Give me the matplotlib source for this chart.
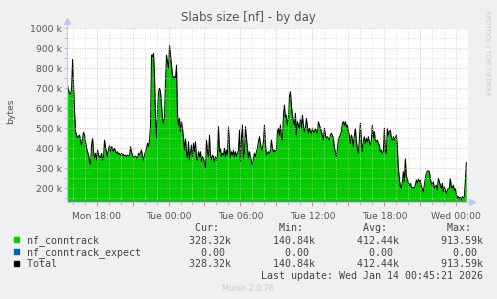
import numpy as np
import matplotlib
matplotlib.use("Agg")
from matplotlib import pyplot as plt
from matplotlib.patches import Rectangle

# samples every 5 minutes, first one Mon 15:35 (hours relative to Tue 00:00)
start_hour = -8 - 25 / 60
step_hour = 5 / 60

# nf_conntrack slab size in kbytes
nf_conntrack_k = [
    711, 690, 675, 671, 695, 845, 716, 583, 483, 466, 450, 460, 466, 441, 416, 450, 480,
    466, 433, 400, 383, 366, 333, 320, 416, 450, 383, 350, 375, 341, 391, 366, 358,
    353, 375, 341, 358, 441, 400, 383, 358, 400, 413, 383, 408, 400, 383, 400, 386,
    375, 383, 370, 375, 366, 375, 366, 370, 361, 366, 358, 366, 361, 363,
    408, 380, 366, 353, 358, 361, 355, 350, 375, 366, 380, 391, 358, 341, 370, 383,
    400, 425, 408, 440, 516, 866, 858, 875, 766, 550, 450, 600, 683, 700, 683, 616,
    550, 525, 560, 733, 866, 833, 800, 913.59, 866, 816, 766, 750, 758, 750, 816, 566,
    516, 550, 483, 533, 500, 450, 391, 450, 383, 350, 433, 341, 383, 416, 358, 425,
    383, 433, 350, 341, 383, 358,
    383, 333, 358, 350, 325, 300, 441, 383, 358, 466, 366, 341, 366, 358, 333, 358,
    341, 366, 508, 383, 400, 358, 375, 366, 400, 358, 391, 366, 508, 416, 350, 383,
    366, 391, 358, 383, 358, 375, 391, 491, 333, 450, 516, 350, 383, 508, 450, 400,
    350, 383, 358, 333, 316, 350, 375, 358, 383, 400, 433, 458, 425, 391, 400, 433,
    516, 420,
    366, 375, 383, 375, 391, 441, 400, 383, 391, 383, 391, 483, 500, 466, 516, 450,
    441, 566, 616, 550, 566, 516, 550, 658, 683, 616, 566, 533, 516, 575, 466, 533,
    516, 500, 550, 500, 566, 516, 483, 500, 550, 508, 475, 500, 483, 475, 500, 480,
    480, 500, 483, 475, 533, 516, 500, 483, 466, 441, 500, 466, 450, 458, 450, 441,
    466, 475,
    466, 450, 400, 383, 358, 400, 441, 458, 466, 483, 525, 533, 516, 533, 508, 516,
    483, 466, 425, 466, 450, 408, 466, 500, 433, 400, 375, 450, 525, 433, 383, 441,
    458, 425, 450, 433, 458, 433, 416, 441, 516, 450, 483, 441, 433, 441, 425, 416,
    383, 391, 375, 383, 500, 383, 375, 500, 466, 483, 491, 450, 441, 458,
    441, 450, 466, 408, 300, 250, 208, 200, 233, 283, 233, 350, 258, 250, 225, 216,
    225, 208, 200, 205, 200, 216, 241, 225, 246, 233, 241, 208, 200, 183, 216, 250,
    275, 286, 288, 283, 250, 225, 216, 233, 200, 208, 216, 191, 250, 233, 216, 200,
    225, 183, 208, 191, 175, 191, 200, 200, 250, 208, 200, 216, 191, 200, 175, 150,
    158, 150, 155, 140.84, 158, 150, 158, 233, 328.32,
]

tick_hours = [-6, 0, 6, 12, 18, 24]
tick_labels = ["Mon 18:00", "Tue 00:00", "Tue 06:00", "Tue 12:00", "Tue 18:00", "Wed 00:00"]

legend_names = ["nf_conntrack", "nf_conntrack_expect", "Total"]
legend_colors = ["#00cc00", "#0066b3", "#000000"]
legend_cur = ["328.32k", "0.00 ", "328.32k"]
legend_min = ["140.84k", "0.00 ", "140.84k"]
legend_avg = ["412.44k", "0.00 ", "412.44k"]
legend_max = ["913.59k", "0.00 ", "913.59k"]

W, H = 497, 299
TEXT = "#555555"
AXIS = "#c4caee"


def px(x, y):
    return x / W, 1 - y / H


values = np.array(nf_conntrack_k) * 1000
hours = start_hour + step_hour * np.arange(len(values))

fig = plt.figure(figsize=(W / 100, H / 100), dpi=100, facecolor="#f0f0f0")
ax = fig.add_axes([67.3 / W, (H - 202.3) / H, 400.4 / W, 174 / H])
ax.set_facecolor("white")

ax.fill_between(hours, 0, values, color="#00cc00", lw=0, zorder=1)
ax.plot(hours, values, color="black", lw=0.75, zorder=2)

ax.set_xlim(-8.44, 24.95)
ax.set_ylim(130000, 1000000)

ax.set_xticks(np.arange(-6, 25, 3))
ax.set_xticklabels([tick_labels[tick_hours.index(h)] if h in tick_hours else ""
                    for h in np.arange(-6, 25, 3)])
ax.set_xticks(np.arange(-8, 25, 1), minor=True)
ax.set_yticks(np.arange(200000, 1000001, 100000))
ax.set_yticklabels([f"{int(v / 1000)} k" for v in np.arange(200000, 1000001, 100000)])
ax.set_yticks(np.arange(150000, 1000000, 50000), minor=True)

dots = (0, (1, 2))
ax.grid(which="minor", color="#d4d4d4", lw=0.6, linestyle=dots)
ax.grid(which="major", color="#f2a0a0", lw=0.6, linestyle=dots)
ax.set_axisbelow(False)

ax.tick_params(axis="both", which="both", labelsize=6.7, labelcolor=TEXT, pad=2)
ax.tick_params(axis="x", which="major", length=3, color="#f08080", width=0.7, pad=4)
ax.tick_params(axis="x", which="minor", length=2, color="#bbbbbb", width=0.7)
ax.tick_params(axis="y", which="both", length=2, color="#bbbbbb", width=0.7)

for side in ("top", "right"):
    ax.spines[side].set_visible(False)
for side in ("left", "bottom"):
    ax.spines[side].set_color(AXIS)
    ax.spines[side].set_linewidth(0.8)
ax.plot([0], [1.04], marker="^", ms=4, color=AXIS, transform=ax.transAxes, clip_on=False)
ax.plot([1.01], [0], marker=">", ms=4, color=AXIS, transform=ax.transAxes, clip_on=False)
ax.plot([0, 0], [1, 1.04], color=AXIS, lw=0.8, transform=ax.transAxes, clip_on=False)
ax.plot([1, 1.01], [0, 0], color=AXIS, lw=0.8, transform=ax.transAxes, clip_on=False)

fig.text(*px(248, 18), "Slabs size [nf] - by day", ha="center", va="center",
         fontsize=8.5, color=TEXT)
fig.text(*px(11, 111), "bytes", rotation=90, ha="center", va="center",
         fontsize=6.7, color=TEXT)
fig.text(*px(487, 53), "RRDTOOL / TOBI OETIKER", rotation=270, ha="center",
         va="center", fontsize=4.9, color="#cccccc")

mono = dict(family="DejaVu Sans Mono", fontsize=7.2, color="#444444", va="baseline")
x0 = 26.7
fig.text(*px(x0, 230.8), f"{'':<20}{'Cur:  ':>14}{'Min:  ':>14}{'Avg:  ':>14}{'Max:  ':>14}",
         **mono)
for i, name in enumerate(legend_names):
    y = 242.8 + i * 12
    row = f"{name:<20}{legend_cur[i]:>14}{legend_min[i]:>14}{legend_avg[i]:>14}{legend_max[i]:>14}"
    fig.text(*px(x0, y), row, **mono)
    fig.add_artist(Rectangle(px(13.8, y - 0.5), 5.3 / W, 5.3 / H, color=legend_colors[i],
                             transform=fig.transFigure))
fig.text(*px(x0, 279.2), f"{'':<39}Last update: Wed Jan 14 00:45:21 2026", **mono)
fig.text(*px(248, 288.3), "Munin 2.0.76", ha="center", va="center", fontsize=5.8,
         color="#cccccc")

fig.savefig("out.png", dpi=100, facecolor=fig.get_facecolor())
